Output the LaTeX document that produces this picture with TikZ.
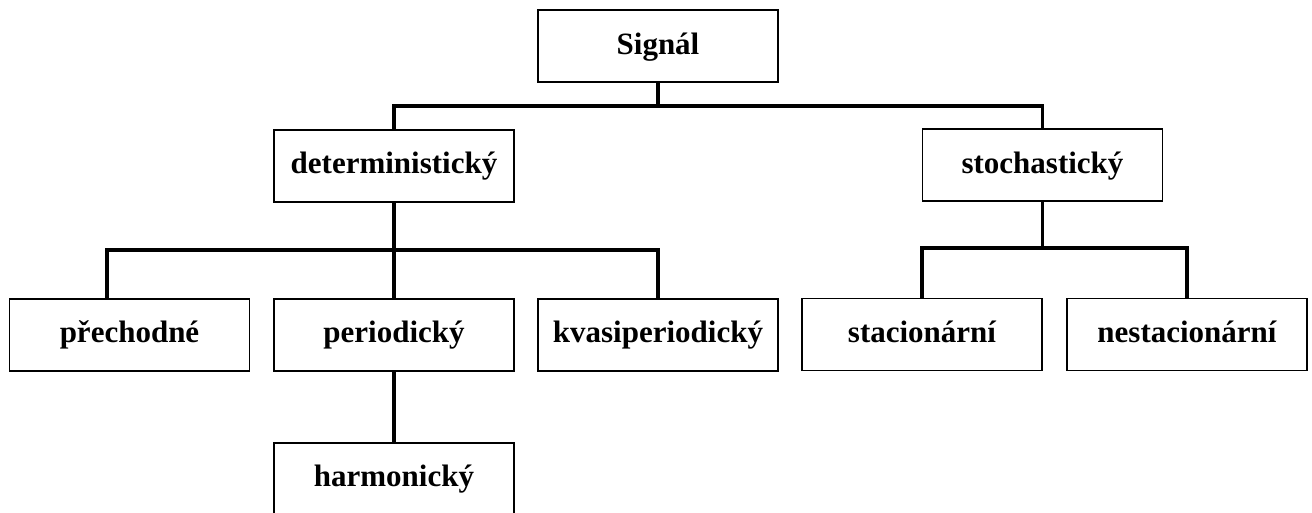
\documentclass[tikz,border=0pt]{standalone}
\usepackage{fontspec}
\setmainfont{Liberation Serif}
\begin{document}
\begin{tikzpicture}[x=1pt, y=-1pt,
  box/.style={draw=black, line width=1.8pt, minimum width=240pt, minimum height=72pt,
    inner sep=0pt, anchor=north, font=\fontsize{31}{36}\selectfont\bfseries,
    text height=25pt, text depth=9pt},
  link/.style={draw=black, line width=3.6pt}]
\clip (0,0) rectangle (1312,513);

% level 0
\node[box] (sig) at (658,9.5) {Signál};
% level 1
\node[box] (det) at (394,129) {deterministický};
\node[box] (sto) at (1042.5,128.5) {stochastický};
% level 2
\node[box] (pre) at (129.5,298) {přechodné};
\node[box] (per) at (394,298) {periodický};
\node[box] (kva) at (658,298) {kvasiperiodický};
\node[box] (sta) at (922,297.5) {stacionární};
\node[box] (nes) at (1187,297.5) {nestacionární};
% level 3
\node[box, minimum height=76pt, text height=23pt, text depth=11pt] (har) at (394,442) {harmonický};

% branch bars
\coordinate (bar1) at (658,106);
\coordinate (bar2) at (394,250);
\coordinate (bar3) at (1042.5,248);
\coordinate (preTop) at ([xshift=-22.5pt]pre.north);

% connectors
\draw[link] (sig.south) -- (bar1);
\draw[link] (det.north) |- (bar1) -| (sto.north);
\draw[link] (det.south) -- (per.north);
\draw[link] (preTop) |- (bar2) -| (kva.north);
\draw[link] (sto.south) -- (bar3);
\draw[link] (sta.north) |- (bar3) -| (nes.north);
\draw[link] (per.south) -- (har.north);
\end{tikzpicture}
\end{document}
